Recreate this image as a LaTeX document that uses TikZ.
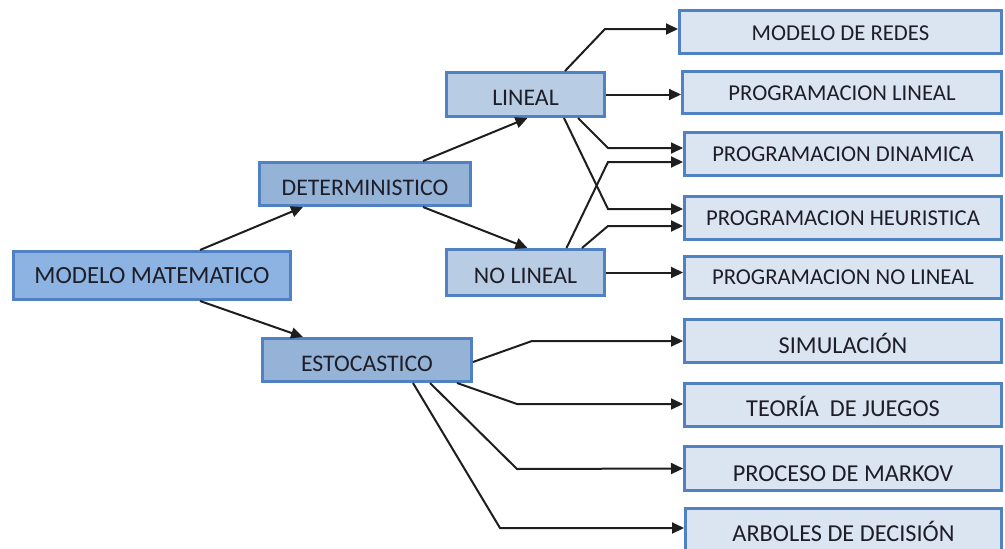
\documentclass[tikz,border=0pt]{standalone}
\usepackage{fontspec}
\setmainfont{Carlito}
\usetikzlibrary{arrows.meta}

\definecolor{boxline}{RGB}{80,130,195}
\definecolor{fillroot}{RGB}{141,179,226}
\definecolor{fillmid}{RGB}{149,179,215}
\definecolor{fillsub}{RGB}{184,204,228}
\definecolor{fillleaf}{RGB}{219,229,241}
\definecolor{inktext}{RGB}{30,30,40}
\definecolor{wire}{RGB}{30,30,30}

\tikzset{
  box/.style={draw=boxline, line width=3pt, inner sep=0pt, text=inktext,
    text depth=0pt, font=\fontsize{24}{28}\selectfont},
  rootbox/.style={box, fill=fillroot, font=\fontsize{24.7}{28}\selectfont},
  midbox/.style={box, fill=fillmid, font=\fontsize{23.8}{28}\selectfont},
  subbox/.style={box, fill=fillsub, font=\fontsize{23.8}{28}\selectfont},
  leafbox/.style={box, fill=fillleaf, font=\fontsize{22.7}{26}\selectfont},
  leafboxlg/.style={box, fill=fillleaf, font=\fontsize{24.3}{28}\selectfont},
  link/.style={draw=wire, line width=2pt, -{Triangle[length=12pt,width=11pt]}},
}

\begin{document}
\begin{tikzpicture}[x=1pt, y=-1pt]
\useasboundingbox (0,0) rectangle (1005,549);

% main branches
\node[rootbox, minimum width=277pt, minimum height=48pt, text height=15.9pt] (mm)  at (152,275.5) {MODELO MATEMATICO};
\node[midbox,  minimum width=211pt, minimum height=43pt, text height=23.3pt] (det) at (365,184)   {DETERMINISTICO};
\node[midbox,  minimum width=209pt, minimum height=43pt, text height=22.8pt] (est) at (367,360)   {ESTOCASTICO};
\node[subbox,  minimum width=158pt, minimum height=44pt, text height=22.8pt] (lin) at (525.5,94.5)  {LINEAL};
\node[subbox,  minimum width=158pt, minimum height=46pt, text height=21.3pt] (nol) at (525.5,272.5) {NO LINEAL};

% techniques
\node[leafbox, minimum width=322pt, minimum height=43pt, text height=17.2pt] (redes) at (840.5,32)  {MODELO DE REDES};
\node[leafbox, minimum width=319pt, minimum height=42pt, text height=16.6pt] (plin)  at (842,92.5)  {PROGRAMACION LINEAL};
\node[leafbox, minimum width=317pt, minimum height=43pt, text height=15.6pt] (din)   at (843,154)   {PROGRAMACION DINAMICA};
\node[leafbox, minimum width=317pt, minimum height=43pt, text height=15.6pt] (heur)  at (843,218)   {PROGRAMACION HEURISTICA};
\node[leafbox, minimum width=317pt, minimum height=42pt, text height=14.6pt] (pnl)   at (843,277.5) {PROGRAMACION NO LINEAL};
\node[leafboxlg, minimum width=317pt, minimum height=43pt, text height=24.6pt] (sim) at (843,341)   {SIMULACIÓN};
\node[leafboxlg, minimum width=317pt, minimum height=43pt, text height=22.6pt] (teo) at (843,405)   {TEORÍA\ \ DE JUEGOS};
\node[leafboxlg, minimum width=317pt, minimum height=44pt, text height=25.6pt] (mar) at (843,468.5) {PROCESO DE MARKOV};
\node[leafboxlg, minimum width=316pt, minimum height=43pt, text height=22.6pt] (arb) at (843.5,530) {ARBOLES DE DECISIÓN};

% root to branches
\draw[link] ([xshift=48pt]mm.north) -- ([xshift=-62pt]det.south);
\draw[link] ([xshift=48pt]mm.south) -- ([xshift=-64pt]est.north);
\draw[link] ([xshift=58pt]det.north) -- ([xshift=2pt]lin.south);
\draw[link] ([xshift=58pt]det.south) -- ([xshift=2pt]nol.north);

% linear models
\draw[link] ([xshift=39.5pt]lin.north) -- (605,29) -- ([yshift=3pt]redes.west);
\draw[link] (lin.east) -- (lin.east -| plin.west);
\draw[link] ([xshift=52.5pt]lin.south) -- (608,148) -- ([yshift=6pt]din.west);
\draw[link] ([xshift=38.5pt]lin.south) -- (608,209) -- ([yshift=9pt]heur.west);

% non-linear models
\draw[link] ([xshift=41pt]nol.north) -- (608,162) -- ([yshift=-8pt]din.west);
\draw[link] ([xshift=56.5pt]nol.north) -- (608,226) -- ([yshift=-8pt]heur.west);
\draw[link] (nol.east) -- (nol.east -| pnl.west);

% stochastic models
\draw[link] ([yshift=-2pt]est.east) -- (532,341) -- (sim.west);
\draw[link] ([xshift=90pt]est.south) -- (517,404) -- ([yshift=1pt]teo.west);
\draw[link] ([xshift=63pt]est.south) -- (517,469) -- (mar.west);
\draw[link] ([xshift=46pt]est.south) -- (500,528) -- ([yshift=2pt]arb.west);
\end{tikzpicture}
\end{document}
